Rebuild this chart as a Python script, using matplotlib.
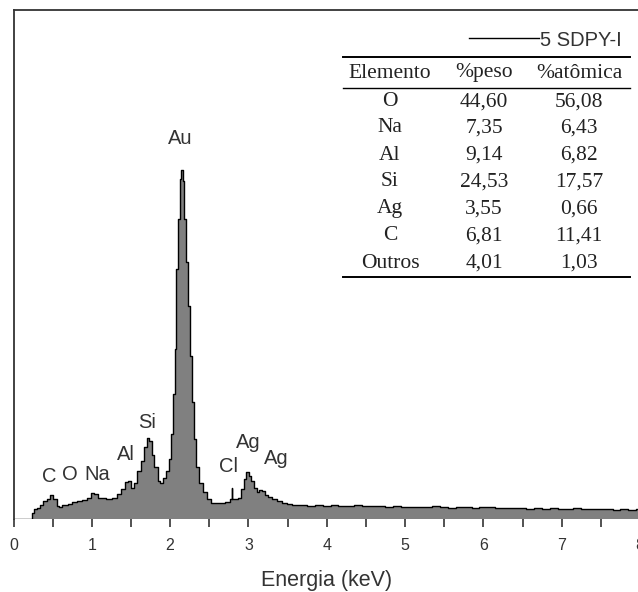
import numpy as np
import matplotlib
matplotlib.use('Agg')
import matplotlib.pyplot as plt
from matplotlib.lines import Line2D

# espectro EDS (energia em keV, contagens em u.a.)
energia = [0.00, 0.23, 0.25, 0.28, 0.31, 0.36, 0.40, 0.45, 0.49, 0.53, 0.57, 0.60,
           0.64, 0.67, 0.72, 0.78, 0.84, 0.90, 0.97, 1.01, 1.05, 1.10, 1.15, 1.22,
           1.29, 1.35, 1.40, 1.44, 1.48, 1.52, 1.56, 1.60, 1.65, 1.69, 1.72, 1.75,
           1.78, 1.82, 1.86, 1.89, 1.93, 1.97, 2.00, 2.02, 2.05, 2.07, 2.09, 2.11,
           2.13, 2.15, 2.17, 2.19, 2.21, 2.24, 2.26, 2.29, 2.31, 2.35, 2.40, 2.45,
           2.50, 2.55, 2.65, 2.75, 2.78, 2.79, 2.80, 2.85, 2.89, 2.93, 2.96, 2.99,
           3.02, 3.05, 3.09, 3.12, 3.16, 3.19, 3.23, 3.27, 3.33, 3.40, 3.46, 3.52,
           3.60, 3.70, 3.80, 3.90, 4.00, 4.10, 4.20, 4.30, 4.40, 4.50, 4.60, 4.70,
           4.80, 4.90, 5.00, 5.10, 5.20, 5.30, 5.40, 5.50, 5.60, 5.70, 5.80, 5.90,
           6.00, 6.10, 6.20, 6.30, 6.40, 6.50, 6.60, 6.70, 6.80, 6.90, 7.00, 7.10,
           7.20, 7.30, 7.40, 7.50, 7.60, 7.70, 7.80, 7.90, 8.00]
contagens = [0, 0, 6, 10, 11, 14, 18, 20, 24, 20, 13, 12,
             14, 14, 15, 17, 18, 19, 21, 26, 25, 21, 21, 20,
             21, 25, 30, 37, 38, 31, 36, 48, 58, 72, 81, 78,
             64, 52, 38, 36, 41, 48, 60, 85, 125, 170, 250, 300,
             340, 349, 338, 300, 257, 213, 163, 117, 80, 52, 36, 27,
             20, 16, 16, 17, 20, 31, 20, 20, 21, 30, 40, 47,
             43, 38, 31, 27, 29, 28, 24, 22, 20, 18, 16, 15,
             14, 14, 13, 14, 13, 14, 13, 13, 14, 13, 13, 13,
             12, 13, 12, 12, 12, 12, 13, 12, 11, 12, 12, 11,
             12, 12, 11, 11, 11, 11, 10, 11, 10, 11, 10, 10,
             11, 10, 10, 10, 10, 9, 10, 9, 10]

# rótulos dos picos: (texto, energia, altura)
picos = [('C', 0.46, 43), ('O', 0.72, 45), ('Na', 1.07, 45), ('Al', 1.44, 64),
         ('Si', 1.70, 97), ('Au', 2.13, 380), ('Cl', 2.74, 52), ('Ag', 3.00, 77),
         ('Ag', 3.36, 60)]

# tabela de composição
elementos = ['O', 'Na', 'Al', 'Si', 'Ag', 'C', 'Outros']
peso = ['44,60', '7,35', '9,14', '24,53', '3,55', '6,81', '4,01']
atomica = ['56,08', '6,43', '6,82', '17,57', '0,66', '11,41', '1,03']
cabecalho = ['Elemento', '%peso', '%atômica']

W, H = 638, 592
fig = plt.figure(figsize=(W / 100, H / 100), dpi=100)
ax = fig.add_axes([13.5 / W, 1 - 519 / H, (640 - 13.5) / W, (519 - 10) / H])

sans = 'Liberation Sans'
serif = 'Liberation Serif'
cor_txt = '#333333'

ax.fill_between(energia, contagens, step='mid', color='#808080', lw=0)
ax.plot(energia, contagens, drawstyle='steps-mid', color='black', lw=1,
        label='5 SDPY-I')

for txt, x, y in picos:
    ax.text(x, y, txt, ha='center', va='center', fontsize=14.5, family=sans,
            color=cor_txt)

ax.set_xlim(0, 8)
ax.set_ylim(0, 509)
ax.set_xticks(np.arange(0, 9, 1))
ax.set_xticks(np.arange(0.5, 8, 1), minor=True)
ax.set_yticks([])
ax.tick_params(axis='x', which='both', direction='out', length=6, width=1.2,
               color='#333333', labelsize=11.5, labelcolor=cor_txt, pad=8)
for lab in ax.get_xticklabels():
    lab.set_family(sans)
ax.spines['bottom'].set_visible(False)
ax.spines['right'].set_visible(False)
for s in ['left', 'top']:
    ax.spines[s].set_linewidth(1.3)
    ax.spines[s].set_color('#333333')
ax.set_xlabel('Energia (keV)', fontsize=15.5, family=sans, color=cor_txt,
              labelpad=12)

leg = ax.legend(loc='center right', bbox_to_anchor=(622 / W, 1 - 40 / H),
                bbox_transform=fig.transFigure, frameon=False, handlelength=3.5,
                handletextpad=0.05, borderpad=0, borderaxespad=0,
                prop={'family': sans, 'size': 14.5})
for t in leg.get_texts():
    t.set_color(cor_txt)

# tabela estilo booktabs (coordenadas em pixels da figura)
def fx(px):
    return px / W

def fy(py):
    return 1 - py / H

for y_regra, lw in [(57, 1.4), (88, 1.0), (277, 1.4)]:
    fig.add_artist(Line2D([fx(343), fx(630)], [fy(y_regra), fy(y_regra)],
                          color='black', lw=lw))

col_x = [390, 484, 579]
fs_tab = 15.5
for cx, txt in zip(col_x, cabecalho):
    fig.text(fx(cx), fy(73), txt, ha='center', va='center', family=serif,
             fontsize=fs_tab, color='#222222')
row_y = [102, 128, 155, 182, 209, 236, 263]
for i, ry in enumerate(row_y):
    for cx, txt in zip(col_x, [elementos[i], peso[i], atomica[i]]):
        fig.text(fx(cx), fy(ry), txt, ha='center', va='center', family=serif,
                 fontsize=fs_tab, color='#222222')

fig.savefig('out.png', dpi=100)
